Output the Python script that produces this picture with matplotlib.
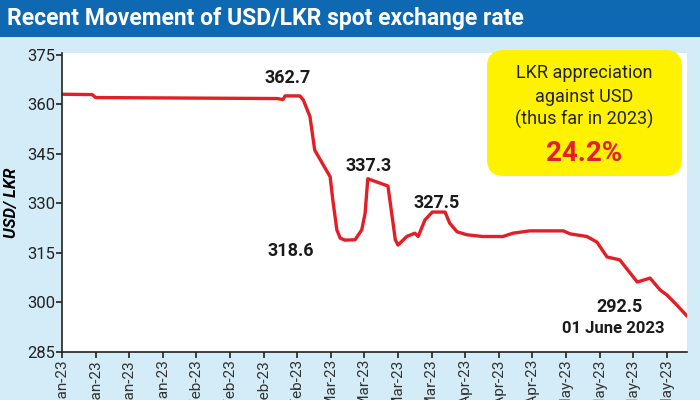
import matplotlib
matplotlib.use("Agg")
import matplotlib.pyplot as plt
from matplotlib.patches import FancyBboxPatch, Rectangle
from matplotlib import font_manager

# ---- data ----
day_index = [0, 4.5, 5, 32, 32.9, 33.2, 35.4, 35.9, 36.9, 37.6, 38.7, 39.9, 40.3, 40.9,
             41.4, 42.1, 43.6, 44.6, 45.1, 45.5, 48.5, 49.6, 50, 51.3, 52.5, 53, 54,
             55.1, 57, 57.7, 58.8, 60.3, 62.6, 65.6, 67.1, 69.6, 74.6, 75.6, 78.1,
             79.6, 81.1, 83, 85.6, 87.5, 89, 90, 91.5, 93]
usd_lkr = [363.1, 363.0, 362.1, 361.8, 361.5, 362.6, 362.6, 361.4, 356.3, 346.2, 342.3,
           338.1, 331.0, 322.0, 319.5, 318.9, 319.0, 322.0, 327.0, 337.5, 335.3, 319.0,
           317.4, 320.0, 321.0, 320.0, 325.0, 327.4, 327.4, 324.0, 321.4, 320.5, 320.0,
           320.0, 321.0, 321.7, 321.7, 320.8, 320.0, 318.3, 313.8, 312.9, 306.2, 307.4,
           303.8, 302.3, 299.2, 295.9]
tick_labels = ["03-Jan-23", "10-Jan-23", "17-Jan-23", "24-Jan-23",
               "01-Feb-23", "08-Feb-23", "15-Feb-23", "22-Feb-23",
               "01-Mar-23", "08-Mar-23", "15-Mar-23", "22-Mar-23",
               "03-Apr-23", "12-Apr-23", "21-Apr-23",
               "02-May-23", "10-May-23", "17-May-23", "25-May-23"]
y_ticks = [285, 300, 315, 330, 345, 360, 375]
annotations = [("362.7", 33.5, 368.0), ("318.6", 34.0, 315.5), ("337.3", 45.7, 341.5),
               ("327.5", 55.8, 330.0), ("292.5", 82.9, 298.5)]
note_date = "01 June 2023"
box_lines = ["LKR appreciation", "against USD", "(thus far in 2023)"]
box_value = "24.2%"
title = "Recent Movement of USD/LKR spot exchange rate"
ylabel = "USD/ LKR"

# ---- fonts ----
names = {f.name for f in font_manager.fontManager.ttflist}
narrow = "Liberation Sans Narrow" if "Liberation Sans Narrow" in names else "Roboto"
plt.rcParams['font.family'] = [narrow, 'DejaVu Sans']

BG = "#d4ecf8"
BAR = "#0f68b2"
RED = "#e31e26"

fig = plt.figure(figsize=(7, 4), dpi=100, facecolor=BG)
fig.patches.append(Rectangle((0, 1 - 37 / 400), 1, 37 / 400, transform=fig.transFigure,
                             facecolor=BAR, edgecolor="none", zorder=0))
fig.text(7 / 700, 1 - 19 / 400, title, color="white", fontsize=16.5, fontweight="bold",
         va="center", ha="left")

ax = fig.add_axes([62 / 700, 48 / 400, (687 - 62) / 700, (352 - 53) / 400])
ax.set_facecolor("white")
ax.plot(day_index, usd_lkr, color=RED, lw=2.4, solid_joinstyle="round", solid_capstyle="round")
ax.set_xlim(0, 93)
ax.set_ylim(285, 375.6)
ax.set_yticks(y_ticks)
ax.set_yticklabels([str(v) for v in y_ticks], fontsize=12, color="#222222")
ax.set_xticks([5 * i for i in range(len(tick_labels))])
ax.set_xticklabels(tick_labels, rotation=90, fontsize=11, color="#333333")
for s in ["top", "right"]:
    ax.spines[s].set_visible(False)
for s in ["left", "bottom"]:
    ax.spines[s].set_linewidth(1.2)
    ax.spines[s].set_color("#222222")
ax.tick_params(axis="both", direction="out", length=4, width=1.2, color="#222222", pad=1)
ax.set_ylabel(ylabel, fontsize=12, fontweight="bold", style="italic", labelpad=6)

for txt, x, y in annotations:
    ax.text(x, y, txt, fontsize=13, fontweight="bold", ha="center", va="center", color="#1a1a1a")
ax.text(82.0, 292.0, note_date, fontsize=12, fontweight="bold", ha="center", va="center",
        color="#1a1a1a")

# yellow box
x0, x1 = 487 / 700, 682 / 700
y0, y1 = 1 - 176 / 400, 1 - 50 / 400
box = FancyBboxPatch((x0, y0), x1 - x0, y1 - y0, boxstyle="round,pad=0,rounding_size=0.024",
                     mutation_aspect=1.75, transform=fig.transFigure, facecolor="#fff200",
                     edgecolor="none", zorder=5)
fig.patches.append(box)
cx = (x0 + x1) / 2
for txt, py in zip(box_lines, [73, 97, 119]):
    fig.text(cx, 1 - py / 400, txt, fontsize=13, ha="center", va="center", color="#222222",
             zorder=6)
fig.text(cx, 1 - 153 / 400, box_value, fontsize=20, fontweight="bold", ha="center",
         va="center", color=RED, zorder=6)

fig.savefig("out.png", dpi=100, facecolor=BG)
